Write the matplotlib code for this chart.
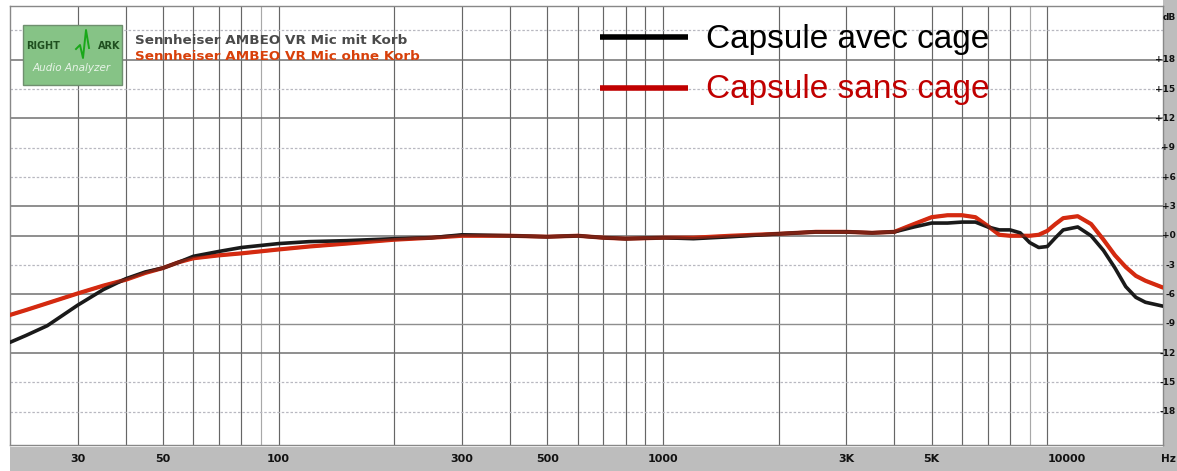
import matplotlib
matplotlib.use("Agg")
import matplotlib.pyplot as plt
from matplotlib.patches import Rectangle
from matplotlib.lines import Line2D

# ---- data ----
freqs = [20, 22, 25, 30, 35, 40, 45, 50, 55, 60, 70, 80, 100, 120, 150, 200, 250, 300,
         400, 500, 600, 700, 800, 1000, 1200, 1500, 2000, 2500, 3000, 3500, 4000, 4500,
         5000, 5500, 6000, 6500, 7000, 7500, 8000, 8500, 9000, 9500, 10000, 10500, 11000,
         12000, 13000, 14000, 15000, 16000, 17000, 18000, 20000]
avec_cage = [-10.9, -10.2, -9.2, -7.1, -5.5, -4.4, -3.7, -3.3, -2.7, -2.1, -1.6, -1.2, -0.8,
             -0.6, -0.5, -0.3, -0.2, 0.1, 0.0, -0.1, 0.0, -0.2, -0.3, -0.2, -0.3, -0.1, 0.2,
             0.4, 0.4, 0.3, 0.4, 0.9, 1.3, 1.3, 1.4, 1.4, 0.9, 0.6, 0.6, 0.3, -0.7, -1.2,
             -1.1, -0.2, 0.6, 0.9, 0.0, -1.5, -3.3, -5.2, -6.3, -6.8, -7.2]
sans_cage = [-8.1, -7.6, -6.9, -5.9, -5.1, -4.5, -3.8, -3.3, -2.7, -2.3, -2.0, -1.8, -1.4,
             -1.1, -0.8, -0.4, -0.2, 0.0, 0.0, -0.1, 0.0, -0.2, -0.3, -0.2, -0.2, 0.0, 0.2,
             0.4, 0.4, 0.3, 0.4, 1.2, 1.9, 2.1, 2.1, 1.9, 1.0, 0.1, 0.0, 0.0, 0.0, 0.1, 0.5,
             1.2, 1.8, 2.0, 1.2, -0.4, -2.0, -3.2, -4.1, -4.6, -5.3]

x_tick_pos = [30, 50, 100, 300, 500, 1000, 3000, 5000, 10000]
x_tick_lbl = ["30", "50", "100", "300", "500", "1000", "3K", "5K", "10000"]
y_tick_pos = [18, 15, 12, 9, 6, 3, 0, -3, -6, -9, -12, -15, -18]
y_tick_lbl = ["+18", "+15", "+12", "+9", "+6", "+3", "+0", "-3", "-6", "-9", "-12", "-15", "-18"]
legend_labels = ["Capsule avec cage", "Capsule sans cage"]
title_lines = ["Sennheiser AMBEO VR Mic mit Korb", "Sennheiser AMBEO VR Mic ohne Korb"]

W, H = 1177, 471
fig = plt.figure(figsize=(W / 100, H / 100), dpi=100, facecolor="white")

def fx(px):
    return px / W

def fy(py):
    return 1 - py / H

narrow = ["Liberation Sans Narrow", "DejaVu Sans Condensed", "DejaVu Sans"]

# gray strips (behind everything)
strip = "#bdbdbd"
fig.patches.append(Rectangle((fx(10), 0), 1 - fx(10), fy(447), transform=fig.transFigure,
                             facecolor=strip, edgecolor="none", zorder=-5))
fig.patches.append(Rectangle((fx(1163), 0), 1 - fx(1163), 1, transform=fig.transFigure,
                             facecolor=strip, edgecolor="none", zorder=-5))

ax = fig.add_axes([fx(10), fy(445), fx(1163) - fx(10), fy(6) - fy(445)])
ax.set_xscale("log")
ax.set_xlim(20, 20000)
ax.set_ylim(-21.4, 23.5)
ax.set_facecolor("white")
for s in ax.spines.values():
    s.set_color("#888888")
    s.set_linewidth(1.0)
ax.set_xticks([])
ax.set_yticks([])
ax.minorticks_off()

# vertical grid
vgrid = [f for dec in (10, 100, 1000) for f in range(2 * dec, 10 * dec + 1, dec)]
vgrid = [f for f in vgrid if 20 < f < 20000]
for f in vgrid:
    light = f in (90, 9000)
    ax.axvline(f, color="#a8a8a8" if light else "#666666", lw=0.85, zorder=1)

# horizontal grid
dark_h = [18, 12, 3, 0, -6, -12]
mid_h = [-9]
for v in [21, 18, 15, 12, 9, 6, 3, 0, -3, -6, -9, -12, -15, -18]:
    if v in dark_h:
        ax.axhline(v, color="#707070", lw=1.1, zorder=1)
    elif v in mid_h:
        ax.axhline(v, color="#8e8e8e", lw=1.0, zorder=1)
    else:
        ax.axhline(v, color="#b8b8c0", lw=0.9, ls=(0, (2, 1.5)), zorder=1)

red = "#d42a10"
ax.plot(freqs, sans_cage, color=red, lw=3.0, zorder=3, solid_capstyle="round")
ax.plot(freqs, avec_cage, color="#1a1a1a", lw=2.6, zorder=4, solid_capstyle="round")
ax.plot(freqs, sans_cage, color=red, lw=2.2, zorder=5, alpha=0.55)

# x tick labels in the bottom strip
xtrans = ax.get_xaxis_transform()
ylab = -(459 - 445) / (445 - 6)
for p, l in zip(x_tick_pos, x_tick_lbl):
    ha = "left" if l == "10000" else "center"
    ax.text(p, ylab, l, transform=xtrans, ha=ha, va="center", fontsize=8,
            fontweight="bold", color="#111111", clip_on=False, zorder=10)
fig.text(fx(1176), fy(459), "Hz", ha="right", va="center", fontsize=7.5,
         fontweight="bold", color="#111111", family=narrow)

# y tick labels in the right strip
ytrans = ax.get_yaxis_transform()
for p, l in zip(y_tick_pos, y_tick_lbl):
    ax.text(1.0 + 12.5 / (1163 - 10), p, l, transform=ytrans, ha="right", va="center",
            fontsize=6.5, fontweight="bold", color="#111111", clip_on=False,
            family=narrow, zorder=10)
fig.text(fx(1175.5), fy(17), "dB", ha="right", va="center", fontsize=6.5,
         fontweight="bold", color="#111111", family=narrow)

# logo
fig.patches.append(Rectangle((fx(23), fy(85)), fx(122) - fx(23), fy(25) - fy(85),
                             transform=fig.transFigure, facecolor="#86c386",
                             edgecolor="#6f8f6f", lw=1.0, zorder=5))
fig.text(fx(26), fy(46), "RIGHT", fontsize=7, fontweight="bold", color="#1f4f1f",
         ha="left", va="center", zorder=6)
fig.text(fx(120), fy(46), "ARK", fontsize=7, fontweight="bold", color="#1f4f1f",
         ha="right", va="center", zorder=6)
fig.lines.append(Line2D([fx(76), fx(80), fx(83), fx(86), fx(89)],
                        [fy(49), fy(45), fy(58), fy(30), fy(48)],
                        transform=fig.transFigure, color="#1aa81a", lw=1.4, zorder=6))
fig.text(fx(72), fy(68), "Audio Analyzer", fontsize=7.5, fontstyle="italic",
         color="#e8f4e8", ha="center", va="center", zorder=6)

# title lines
fig.text(fx(135), fy(40), title_lines[0], fontsize=9.7, fontweight="bold",
         color="#4a4a4a", ha="left", va="center")
fig.text(fx(135), fy(56), title_lines[1], fontsize=9.7, fontweight="bold",
         color="#d8400a", ha="left", va="center")

# legend
leg_colors = ["#000000", "#c00000"]
leg_y = [37, 88]
leg_base = [48, 98]
for lbl, c, yy, yb in zip(legend_labels, leg_colors, leg_y, leg_base):
    fig.lines.append(Line2D([fx(600), fx(688)], [fy(yy), fy(yy)], transform=fig.transFigure,
                            color=c, lw=4, zorder=6, solid_capstyle="butt"))
    fig.text(fx(706), fy(yb), lbl, fontsize=24, color=c, ha="left", va="baseline",
             fontfamily="Liberation Sans", zorder=6)

fig.savefig("out.png", dpi=100, facecolor="white")
